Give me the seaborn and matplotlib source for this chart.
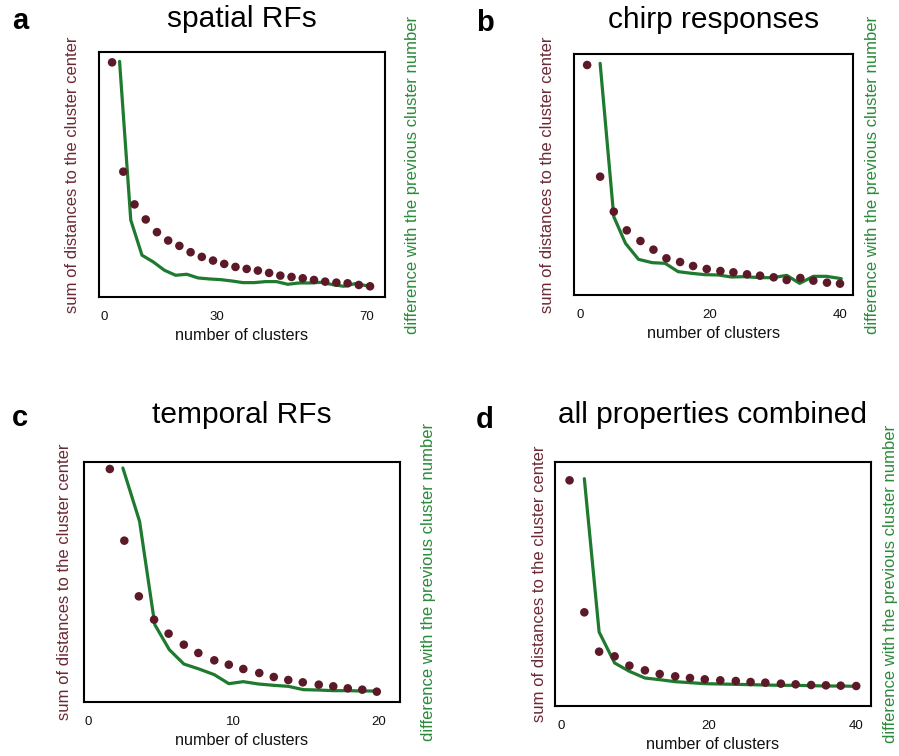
import matplotlib
matplotlib.use("Agg")
import matplotlib.pyplot as plt
import seaborn as sns

DOT_COLOR = "#5c1a28"
LINE_COLOR = "#1e7a2e"
LEFT_LABEL_COLOR = "#6a2a35"
RIGHT_LABEL_COLOR = "#2a8a3a"

# a: spatial RFs
a_dot_x = [2, 5, 8, 11, 14, 17, 20, 23, 26, 29, 32, 35, 38, 41, 44, 47, 50, 53, 56, 59, 62, 65, 68, 71]
a_dot_y = [702, 375, 277, 232, 194, 169, 153, 134, 120, 109, 99, 90, 84, 79, 72, 64, 60, 56, 51, 46, 43, 41, 36, 32]
a_line_x = [4, 7, 10, 13, 16, 19, 22, 25, 28, 31, 34, 37, 40, 43, 46, 49, 52, 55, 58, 61, 64, 67, 70]
a_line_y = [705, 230, 125, 105, 80, 65, 68, 57, 54, 52, 48, 43, 43, 46, 46, 38, 42, 42, 44, 37, 32, 40, 34]

# b: chirp responses
b_dot_x = [1.1, 3.1, 5.2, 7.2, 9.3, 11.3, 13.3, 15.4, 17.4, 19.5, 21.6, 23.6, 25.7, 27.7, 29.8, 31.8, 33.9, 35.9, 38.0, 40.0]
b_dot_y = [690, 355, 250, 194, 162, 136, 110, 99, 87, 78, 72, 68, 62, 58, 53, 45, 51, 43, 37, 34]
b_line_x = [3.1, 5.2, 7.0, 9.0, 11.1, 13.1, 15.1, 17.2, 19.2, 21.3, 23.3, 25.3, 27.7, 29.7, 31.8, 33.8, 35.9, 37.9, 40.2]
b_line_y = [695, 235, 155, 107, 97, 95, 70, 65, 61, 60, 54, 55, 52, 52, 59, 35, 56, 56, 49]

# c: temporal RFs
c_dot_x = [1.5, 2.5, 3.5, 4.55, 5.55, 6.6, 7.6, 8.7, 9.7, 10.7, 11.8, 12.8, 13.8, 14.8, 15.9, 16.9, 17.9, 18.9, 19.9]
c_dot_y = [699, 484, 317, 247, 205, 172, 147, 125, 112, 99, 87, 75, 66, 59, 52, 47, 41, 37, 31]
c_line_x = [2.4, 3.55, 4.6, 5.6, 6.6, 7.65, 8.7, 9.7, 10.7, 11.75, 12.8, 13.8, 14.85, 15.85, 16.9, 17.9, 18.95, 20.0]
c_line_y = [702, 542, 232, 157, 114, 99, 82, 55, 61, 54, 50, 47, 37, 36, 34, 34, 33, 33]

# d: all properties combined
d_dot_x = [1.2, 3.2, 5.2, 7.3, 9.3, 11.4, 13.4, 15.5, 17.5, 19.5, 21.6, 23.7, 25.7, 27.7, 29.8, 31.8, 33.9, 35.9, 37.9, 40.0]
d_dot_y = [677, 281, 163, 149, 121, 107, 96, 89, 84, 80, 77, 75, 72, 70, 67, 65, 63, 62, 61, 60]
d_line_x = [3.2, 5.2, 7.3, 9.3, 11.4, 13.4, 15.5, 17.5, 19.5, 21.6, 23.7, 25.7, 27.7, 29.8, 31.8, 33.9, 35.9, 37.9, 40.0]
d_line_y = [682, 222, 129, 104, 84, 79, 73, 70, 67, 66, 65, 64, 63, 62, 62, 61, 60, 60, 59]

PANELS = [
    dict(letter="a", title="spatial RFs", dots=(a_dot_x, a_dot_y), line=(a_line_x, a_line_y),
         xticks=[0, 30, 70], xlim=(-1.5, 75), ytop=733, box=(99, 52, 385, 297),
         labels=(73, 413), letter_xy=(12, 29), title_y=27),
    dict(letter="b", title="chirp responses", dots=(b_dot_x, b_dot_y), line=(b_line_x, b_line_y),
         xticks=[0, 20, 40], xlim=(-0.92, 42), ytop=723, box=(574, 54, 853, 295),
         labels=(547, 873), letter_xy=(476, 31), title_y=28),
    dict(letter="c", title="temporal RFs", dots=(c_dot_x, c_dot_y), line=(c_line_x, c_line_y),
         xticks=[0, 10, 20], xlim=(-0.28, 21.5), ytop=720, box=(84, 462, 400, 702),
         labels=(65, 428), letter_xy=(12, 426), title_y=423),
    dict(letter="d", title="all properties combined", dots=(d_dot_x, d_dot_y), line=(d_line_x, d_line_y),
         xticks=[0, 20, 40], xlim=(-0.77, 42), ytop=732, box=(555, 462, 871, 706),
         labels=(540, 890), letter_xy=(476, 428), title_y=423),
]

W, H = 899, 756

sns.set_style("white")
plt.rcParams["font.family"] = ["Liberation Sans", "DejaVu Sans"]

fig = plt.figure(figsize=(W / 100, H / 100), dpi=100)

for p in PANELS:
    l, t, r, b = p["box"]
    ax = fig.add_axes([l / W, 1 - b / H, (r - l) / W, (b - t) / H])
    ax2 = ax.twinx()

    sns.lineplot(x=p["line"][0], y=p["line"][1], ax=ax2, color=LINE_COLOR, linewidth=2.3)
    sns.scatterplot(x=p["dots"][0], y=p["dots"][1], ax=ax, color=DOT_COLOR, s=38,
                    edgecolor="none", zorder=3)

    # dots drawn above the line
    ax.set_zorder(ax2.get_zorder() + 1)
    ax.patch.set_visible(False)

    for a_ in (ax, ax2):
        a_.set_xlim(*p["xlim"])
        a_.set_ylim(0, p["ytop"])
        a_.set_yticks([])

    ax.set_xticks(p["xticks"])
    ax.tick_params(axis="x", direction="out", length=5, width=2.4, pad=2,
                   labelsize=9.5, colors="black", labelcolor="#111111")
    for s in ("top", "left", "right"):
        ax.spines[s].set_visible(False)
    ax.spines["bottom"].set_position(("outward", 3))
    ax.spines["bottom"].set_visible(False)
    for s in ax2.spines.values():
        s.set_visible(True)
        s.set_color("black")
        s.set_linewidth(1.5)

    ax.set_xlabel("number of clusters", fontsize=11.6, labelpad=4, color="#111111")

    width = r - l
    ax.set_ylabel("sum of distances to the cluster center", fontsize=12, color=LEFT_LABEL_COLOR)
    ax.yaxis.set_label_coords((p["labels"][0] - l) / width, 0.5)
    ax.yaxis.label.set_va("center")
    ax2.set_ylabel("difference with the previous cluster number", fontsize=12, color=RIGHT_LABEL_COLOR)
    ax2.yaxis.set_label_coords((p["labels"][1] - l) / width, 0.5)
    ax2.yaxis.label.set_va("center")

    fig.text(p["letter_xy"][0] / W, 1 - p["letter_xy"][1] / H, p["letter"], fontsize=21,
             fontweight="bold", va="baseline", ha="left", color="black")
    fig.text((l + r) / 2 / W, 1 - p["title_y"] / H, p["title"], fontsize=21.5,
             va="baseline", ha="center", color="black")

fig.savefig("out.png", dpi=100)
